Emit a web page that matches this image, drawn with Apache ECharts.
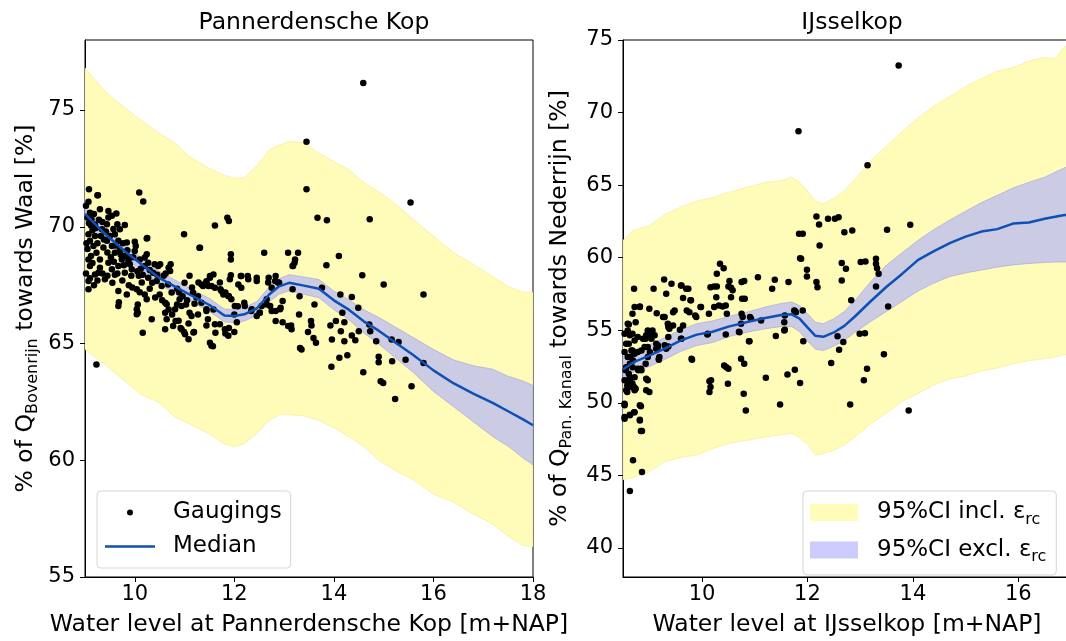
<!DOCTYPE html>
<html><head><meta charset="utf-8">
<script src="https://cdn.jsdelivr.net/npm/echarts@6/dist/echarts.min.js"></script>
<style>html,body{margin:0;padding:0;background:#fff}#c{width:1066px;height:641px}</style>
</head><body><div id="c"></div><script>
// ---------- LEFT PANEL: Pannerdensche Kop ----------
const titleLeft = 'Pannerdensche Kop';
const titleRight = 'IJsselkop';
const xTicksLeft = [10, 12, 14, 16, 18];
const yTicksLeft = [55, 60, 65, 70, 75];
const xTicksRight = [10, 12, 14, 16];
const yTicksRight = [40, 45, 50, 55, 60, 65, 70, 75];

const bandXLeft = [9.0, 9.4, 9.8, 10.1, 10.5, 10.8, 11.1, 11.5, 11.8, 12.0, 12.2, 12.45, 12.7, 12.9, 13.1, 13.4, 13.7, 14.0, 14.3, 14.6, 14.9, 15.2, 15.6, 16.0, 16.4, 16.8, 17.2, 17.5, 17.8, 18.0];
const inclUpperLeft = [76.8, 75.8, 75.1, 74.6, 74.0, 73.6, 73.0, 72.5, 72.2, 72.08, 72.1, 72.6, 73.3, 73.5, 73.65, 73.6, 73.15, 72.8, 72.45, 71.9, 71.5, 71.05, 70.3, 69.6, 68.9, 68.4, 67.85, 67.45, 67.2, 67.2];
const inclLowerLeft = [64.75, 64.1, 63.4, 62.85, 62.45, 61.85, 61.55, 61.12, 60.7, 60.58, 60.7, 61.15, 61.7, 61.95, 61.95, 61.9, 61.7, 61.4, 61.0, 60.6, 60.0, 59.6, 59.15, 58.55, 58.2, 57.7, 57.25, 56.75, 56.35, 56.3];
const medianLeft = [70.55, 69.7, 68.95, 68.45, 67.8, 67.45, 67.1, 66.65, 66.2, 66.18, 66.25, 66.5, 67.1, 67.45, 67.6, 67.48, 67.35, 66.85, 66.45, 65.95, 65.55, 65.1, 64.5, 63.85, 63.3, 62.85, 62.45, 62.1, 61.75, 61.5];
const exclUpperLeft = [70.83, 69.98, 69.23, 68.73, 68.08, 67.73, 67.38, 66.93, 66.48, 66.46, 66.54, 66.8, 67.42, 67.78, 67.95, 67.85, 67.74, 67.25, 66.88, 66.45, 66.12, 65.75, 65.25, 64.75, 64.3, 64.05, 63.9, 63.6, 63.4, 63.2];
const exclLowerLeft = [70.27, 69.42, 68.67, 68.17, 67.52, 67.17, 66.82, 66.37, 65.92, 65.9, 65.96, 66.2, 66.78, 67.12, 67.25, 67.11, 66.96, 66.45, 66.02, 65.45, 64.98, 64.45, 63.75, 62.95, 62.3, 61.65, 61.0, 60.6, 60.1, 59.8];

const gaugingsLeft = [
[14.59,76.16],[13.45,73.64],[13.45,71.61],[15.54,71.04],[14.72,70.32],[13.67,70.39],[13.86,70.28],
[9.08,71.61],[9.26,71.35],[10.09,71.47],[10.17,71.08],[11.61,70.06],[11.86,70.39],[11.89,70.25],[10.99,69.68],[11.3,69.1],[10.25,69.52],[12.6,68.89],[11.93,68.82],[11.93,68.6],[13.28,68.89],[13.21,68.46],[13.17,68.32],[13.85,68.35],[14.1,68.75],[14.57,67.92],[15.0,67.53],[15.8,67.1],[13.76,67.39],[14.13,67.1],[14.36,66.99],[14.49,66.53],[14.17,66.32],[13.61,66.67],[13.3,66.24],[13.17,67.32],[13.31,67.03],[12.69,67.82],[12.83,67.89],[12.9,67.6],[12.13,67.89],[12.27,67.89],[12.45,67.82],[11.93,67.92],[11.51,67.89],[11.58,67.96],[11.44,67.67],[11.37,67.46],[11.48,67.46],[11.72,67.32],[11.82,67.18],[11.89,67.03],[11.17,67.18],[11.27,67.03],[10.89,67.18],[10.96,67.03],[10.72,68.39],[10.68,68.25],[10.47,68.32],[10.2,68.68],[10.27,68.46],[9.68,66.77],[10.06,66.67],[10.06,66.32],[10.61,66.75],[10.68,66.46],[10.75,66.24],[10.85,66.67],[11.03,66.67],[11.1,66.32],[11.27,66.24],[11.44,66.39],[11.58,66.46],[12.0,66.24],[12.2,66.75],[12.07,66.6],[12.34,66.39],[12.51,66.32],[12.65,66.67],[12.75,66.39],[12.83,66.39],[12.97,66.82],[12.93,66.53],
[9.23,64.1],[10.16,65.46],[10.82,65.96],[10.92,65.67],[10.99,65.49],[11.08,65.86],[11.19,65.49],[11.44,65.77],[11.51,65.03],[11.57,64.88],[11.62,65.46],[11.82,65.43],[12.0,65.49],[11.89,65.67],[12.05,65.91],[12.83,65.96],[12.97,65.91],[13.14,65.77],[13.32,64.81],[13.48,65.49],[13.55,65.77],[13.54,65.96],[13.59,65.24],[13.64,65.03],[13.93,65.77],[13.96,65.17],[13.95,64.0],[14.04,65.96],[14.11,64.39],[14.21,65.1],[14.21,65.91],[14.27,64.5],[14.14,65.53],[14.36,65.34],[14.43,65.14],[14.5,65.53],[14.59,63.77],[14.73,65.53],[14.71,65.82],[14.85,65.1],[14.9,64.43],[14.9,64.2],[14.94,63.38],[14.99,63.31],[15.16,65.17],[15.17,64.24],[15.3,65.06],[15.23,62.62],[15.44,64.31],[15.56,63.17],[15.8,64.17],
[9.07,69.68],[9.1,69.4],[9.17,69.18],[9.23,68.89],[9.07,68.6],[9.1,68.32],[9.3,68.6],[9.37,69.11],[9.44,69.4],[9.54,69.18],[9.6,68.89],[9.47,68.46],[9.54,68.18],[9.67,68.32],[9.74,68.6],[9.8,68.03],[9.87,68.53],[9.94,68.18],[9.4,67.75],[9.27,68.03],[9.07,67.68],[9.07,67.32],[9.2,67.96],[9.67,67.25],[9.84,67.1],[10.04,67.32],[10.14,67.61],[10.27,67.82],[10.44,67.68],[10.54,67.46],[10.67,67.53],[10.74,67.18],[10.37,68.03],[10.51,68.39],[10.71,68.11],[10.0,68.96],[10.1,68.6],[10.2,68.32],[10.24,68.82],[9.6,69.68],[9.7,69.89],[9.34,69.89],[9.2,69.6],[9.44,70.11],[9.54,70.47],[9.3,70.75],[9.13,70.32],[9.47,70.68],[9.67,69.4],[9.84,69.33],[9.9,68.68],[9.67,66.61],[10.04,66.47],[10.24,66.9],[10.41,66.97],[10.64,66.68],[10.61,66.32],[10.64,66.04],[10.81,66.47],[10.94,66.61],[10.88,65.97],[10.94,65.61],[11.01,65.4],[11.18,65.47],[11.14,66.18],[11.24,66.97],[11.34,66.75],[11.44,66.47],[11.47,66.04],[11.61,65.83],[11.71,65.83],[11.54,64.9],[11.81,65.61],[11.88,65.33],[11.28,67.61],[11.34,67.53],[11.44,67.61],[11.51,67.82],[11.54,67.46],[11.61,67.39],[11.71,67.61],[11.74,67.25],[11.78,67.1],[11.88,67.04],[11.94,66.9],[11.91,67.75],[12.14,67.89],[12.28,67.75],[12.45,67.68],[12.08,67.53],[12.14,67.39],[12.01,66.61],[12.21,66.61],[12.68,67.61],[12.82,67.68],[12.88,67.61],[12.75,67.39],[12.72,66.61],[12.92,66.47],[13.08,65.75],[13.15,65.61],[12.65,66.9],[12.55,66.61],[12.35,66.47],[12.45,66.18],[12.51,66.32],[13.08,68.89],[13.22,68.6],[13.18,68.32],[13.35,64.74],[10.34,66.04],[10.04,66.25],[10.61,65.61],[10.77,65.75],[11.08,65.18],
[9.25,71.35],[9.07,71.07],[9.1,70.6],[9.47,70.4],[9.63,70.57],[9.65,70.11],[9.8,70.08],[9.2,70.1],[10.24,69.5],[11.31,69.1],[10.0,69.36],[10.02,69.18],
[9.02,70.9],[9.05,70.4],[9.12,70.05],[9.15,69.85],[9.18,70.55],[9.22,69.95],[9.28,70.3],[9.32,69.6],[9.35,70.2],[9.38,69.45],[9.42,69.8],[9.45,68.9],[9.5,69.6],[9.52,68.7],[9.57,69.9],[9.58,68.5],[9.62,69.2],[9.65,68.0],[9.7,69.0],[9.72,68.8],[9.76,69.3],[9.78,68.35],[9.82,68.75],[9.85,69.0],[9.9,68.4],[9.93,67.9],[9.97,68.7],[10.05,68.1],[10.08,67.9],[10.12,68.2],[10.16,67.95],[10.3,68.15],[10.35,67.6],[10.4,68.4],[10.45,67.95],[10.58,67.9],[10.62,68.0],[9.05,69.05],[9.12,68.75],[9.15,68.45],[9.25,69.3],[9.3,68.25],[9.35,68.0],[9.02,68.0],[9.03,69.3],[9.08,70.15],[9.1,67.8],[9.18,67.5],[9.25,67.7],[9.45,67.9],[9.55,67.6],[9.6,67.95],[9.75,67.7],[9.88,67.5],[9.95,67.4],[10.1,67.2],[10.2,67.1],[10.3,67.35],[10.5,67.1],[10.55,66.85],[10.85,67.35],[10.9,66.9],[11.0,67.6],[11.05,66.85],[11.15,67.4],[11.2,66.7],[11.1,67.9]
];

// ---------- RIGHT PANEL: IJsselkop ----------
const bandXRight = [8.5, 8.7, 9.0, 9.3, 9.6, 9.9, 10.2, 10.5, 10.9, 11.2, 11.5, 11.7, 11.85, 12.0, 12.15, 12.3, 12.5, 12.7, 12.9, 13.2, 13.5, 13.8, 14.1, 14.4, 14.7, 15.0, 15.3, 15.6, 15.9, 16.2, 16.5, 16.7, 16.85, 17.0];
const inclUpperRight = [61.2, 61.9, 62.2, 63.0, 63.5, 63.9, 64.15, 64.5, 64.9, 65.2, 65.3, 65.55, 65.2, 64.6, 63.9, 63.7, 64.1, 64.6, 65.4, 66.7, 67.7, 68.7, 69.65, 70.45, 71.1, 71.8, 72.35, 72.85, 73.1, 73.55, 73.8, 73.7, 74.45, 74.8];
const inclLowerRight = [44.7, 44.85, 45.25, 45.95, 46.25, 46.4, 46.85, 47.2, 47.45, 47.65, 47.8, 47.9, 47.6, 47.15, 46.4, 46.5, 46.75, 47.1, 47.65, 48.55, 49.3, 50.1, 50.65, 51.25, 51.65, 51.85, 52.2, 52.4, 52.7, 52.9, 53.05, 53.15, 53.3, 53.4];
const medianRight = [52.3, 52.8, 53.25, 53.75, 54.3, 54.7, 54.9, 55.25, 55.6, 55.85, 56.05, 56.1, 55.8, 55.2, 54.62, 54.55, 54.85, 55.3, 55.95, 57.0, 58.0, 58.9, 59.85, 60.45, 61.0, 61.45, 61.8, 61.97, 62.35, 62.43, 62.68, 62.82, 62.92, 63.0];
const exclUpperRight = [53.2, 53.6, 54.0, 54.5, 55.05, 55.45, 55.65, 55.95, 56.3, 56.6, 56.85, 56.95, 56.7, 56.15, 55.55, 55.45, 55.8, 56.3, 57.05, 58.35, 59.5, 60.35, 61.2, 61.95, 62.6, 63.2, 63.8, 64.3, 64.8, 65.2, 65.55, 65.9, 66.15, 66.4];
const exclLowerRight = [51.6, 52.1, 52.5, 53.0, 53.55, 53.95, 54.15, 54.55, 54.9, 55.1, 55.25, 55.25, 54.9, 54.25, 53.7, 53.6, 53.9, 54.3, 54.85, 55.6, 56.3, 57.0, 57.7, 58.25, 58.7, 58.95, 59.15, 59.35, 59.5, 59.6, 59.67, 59.7, 59.7, 59.7];

const gaugingsRight = [
[13.73,73.24],[11.83,68.72],[13.14,66.37],[13.95,62.27],[13.51,61.92],[12.17,62.84],[12.22,62.29],[12.23,60.84],[12.39,62.68],[12.52,62.68],[12.59,62.79],[12.7,61.76],[12.85,61.88],[11.91,61.65],[11.88,59.93],[11.99,59.17],[11.99,58.71],[12.17,58.32],[12.19,57.97],[12.65,59.63],[12.73,59.24],[12.65,58.43],[12.83,57.06],[13.01,59.7],[13.1,59.74],[13.3,59.93],[13.3,59.58],[13.32,59.28],[13.35,58.9],[13.3,58.02],[13.53,56.64],
[8.71,57.86],[9.08,57.86],[9.28,58.5],[9.42,58.2],[9.61,58.09],[9.74,57.86],[9.32,57.52],[9.64,57.23],[9.78,57.06],[10.16,57.97],[10.34,59.58],[10.41,59.28],[10.28,58.9],[10.23,58.02],[10.28,58.02],[10.27,57.28],[10.52,58.39],[10.55,57.93],[10.5,58.02],[10.58,57.75],[10.55,57.28],[10.75,58.32],[10.8,58.39],[10.76,57.17],[10.81,57.17],[11.06,58.66],[11.33,57.86],[11.38,58.48],[11.64,58.32],
[8.68,56.14],[8.82,56.64],[9.0,56.48],[9.14,56.18],[9.26,55.91],[9.45,56.25],[9.71,56.37],[9.87,56.02],[9.97,56.6],[10.13,56.14],[10.23,56.6],[10.32,56.71],[10.39,56.64],[10.45,56.71],[10.47,56.14],[10.75,56.14],[10.91,55.91],[11.57,56.02],[11.75,56.37],[11.91,56.37],
[8.63,43.92],[8.69,46.04],[8.86,45.23],[8.53,49.02],[8.63,49.18],[8.72,49.36],[8.82,48.79],[8.84,48.06],[8.82,49.83],[8.53,49.94],[8.56,50.86],[8.6,51.32],[8.66,51.09],[8.72,50.86],[8.63,51.77],[8.72,51.77],[8.53,51.55],[8.78,52.35],[8.85,52.24],[8.94,51.66],[9.0,50.74],[8.56,52.46],[8.63,52.69],[8.69,52.92],[8.59,53.15],[8.72,53.38],[8.78,53.5],[8.85,53.61],[8.91,53.84],[8.66,53.61],[8.53,53.5],[8.56,54.07],[8.72,54.3],[8.63,54.65],[8.53,54.76],[8.78,54.53],[8.88,54.42],[8.94,54.65],[8.97,54.99],[9.04,54.42],[9.1,54.65],[9.13,54.07],[9.16,53.84],[9.18,53.04],[8.72,56.6],[8.82,56.6],[8.59,55.45],[8.59,54.99],[9.29,53.96],[9.32,53.73],[8.97,51.55],[8.94,50.86],[9.19,53.15],[9.29,55.91],[9.35,55.45],[9.38,55.11],[9.48,56.37],[9.6,58.09],[9.7,57.86],[9.79,57.06],[9.76,56.25],[9.89,55.91],[9.98,56.6],[9.6,54.42],[9.8,53.04],[10.11,54.76],[10.14,50.74],[10.16,51.09],[10.17,51.55],[10.46,52.46],[10.49,51.32],[10.5,52.35],[10.74,53.04],[10.8,52.69],[10.79,50.63],[10.83,49.48],[10.9,54.25],[11.21,51.73],[11.4,54.6],[11.48,49.89],[11.62,51.96],[11.76,52.28],[11.86,51.36],[11.92,54.25],[11.56,54.99],[11.56,55.56],[10.71,54.87],[10.74,55.45],[10.77,55.91],[10.93,55.8],[11.12,55.68],[11.78,56.25],[12.45,52.74],[11.84,61.65],[11.86,59.97],
[11.57,55.04],[11.76,56.32],[12.57,54.58],[12.68,54.19],[12.6,53.66],[12.99,54.76],[13.09,54.8],[13.13,52.35],[13.07,51.55],[13.45,53.34],[12.81,49.89],[13.92,49.48],
[9.81,52.97],[9.18,52.97],[10.42,52.58],[10.14,51.48],[10.89,54.25],[10.7,54.9],[10.45,54.71],[10.1,54.71],
[8.61,55.4],[8.68,54.76],[8.74,55.56],[8.61,54.07],[8.68,53.61],[8.64,53.15],[8.68,52.46],[8.55,52.24],[8.61,52.0],[8.64,51.66],[8.58,51.2],[8.68,51.32],[8.71,51.09],[8.74,50.97],[8.58,50.74],[8.53,49.83],[8.53,48.9],[8.63,49.14],[8.71,49.36],[8.84,49.76],[8.82,48.84],[8.86,48.06],[8.79,52.24],[8.84,52.35],[8.93,52.69],[8.97,53.15],[9.01,53.5],[8.97,53.84],[8.93,54.42],[9.0,54.76],[9.06,54.99],[9.13,53.73],[9.16,53.96],[9.36,53.89],[9.36,55.22],[9.45,55.33],[9.58,55.04],[9.64,55.33],[9.61,54.42],[9.36,54.53]
];

// ---------- styles ----------
const FONT = 'DejaVu Sans';
const FS_TICK = 21;
const FS_LABEL = 23.5;
const FS_TITLE = 23.5;
const FS_LEG = 23;
const FS_SUB = 16;
const YELLOW = '#fffbb9';
const YELLOW_EDGE = 'rgba(245,235,140,0.6)';
const LAVENDER = '#cbcbe4';
const LAVENDER_EDGE = 'rgba(140,140,230,0.45)';
const LAVENDER_LEG = '#ccccff';
const BLUE = '#0e50b3';

const zip = (xs, ys) => xs.map((x, i) => [x, ys[i]]);

const richLabel = { sub: { fontSize: FS_SUB, fontFamily: FONT, color: '#000', verticalAlign: 'bottom' },
                    n: { fontSize: FS_LABEL, fontFamily: FONT, color: '#000', lineHeight: 31 } };
const richLeg = { sub: { fontSize: FS_SUB, fontFamily: FONT, color: '#000', verticalAlign: 'bottom' },
                  n: { fontSize: FS_LEG, fontFamily: FONT, color: '#000', lineHeight: 30 } };

function xAxisCfg(grid, min, max, ticks, name) {
  return {
    type: 'value', gridIndex: grid, min: min, max: max,
    name: name, nameLocation: 'middle', nameGap: 36, nameMoveOverlap: false,
    nameTextStyle: { fontFamily: FONT, fontSize: FS_LABEL, color: '#000' },
    axisLine: { show: true, onZero: false, lineStyle: { color: '#000', width: 1 } },
    axisTick: { show: true, inside: false, length: 5, customValues: ticks, lineStyle: { color: '#000', width: 1 } },
    axisLabel: { show: true, customValues: ticks, margin: 7, fontFamily: FONT, fontSize: FS_TICK, color: '#000' },
    splitLine: { show: false }
  };
}
function yAxisCfg(grid, min, max, ticks, name, gap) {
  return {
    type: 'value', gridIndex: grid, min: min, max: max,
    name: name, nameLocation: 'middle', nameGap: gap, nameRotate: 90, nameMoveOverlap: false,
    nameTextStyle: { fontFamily: FONT, fontSize: FS_LABEL, color: '#000', rich: richLabel },
    axisLine: { show: true, onZero: false, lineStyle: { color: '#000', width: 1 } },
    axisTick: { show: true, inside: false, length: 5, customValues: ticks, lineStyle: { color: '#000', width: 1 } },
    axisLabel: { show: true, customValues: ticks, margin: 10, fontFamily: FONT, fontSize: FS_TICK, color: '#000' },
    splitLine: { show: false }
  };
}

// filled band between lo and hi, drawn through the axis scales (api.coord)
function bandSeries(idx, name, xs, lo, hi, fill, edge, z) {
  return {
    name: name, type: 'custom', xAxisIndex: idx, yAxisIndex: idx, silent: true, z: z,
    data: xs.map((x, i) => [x, lo[i], hi[i]]),
    encode: { x: 0, y: [1, 2] },
    itemStyle: { color: fill },
    renderItem: function (params, api) {
      if (params.dataIndex !== 0) return null;
      const up = [], dn = [];
      for (let i = 0; i < xs.length; i++) {
        up.push(api.coord([xs[i], hi[i]]));
        dn.push(api.coord([xs[i], lo[i]]));
      }
      const cs = params.coordSys;
      return {
        type: 'polygon',
        shape: { points: up.concat(dn.reverse()) },
        style: { fill: fill, stroke: edge, lineWidth: 1 },
        clipPath: { type: 'rect', shape: { x: cs.x, y: cs.y, width: cs.width, height: cs.height } }
      };
    }
  };
}

function panelSeries(idx, bx, iu, il, eu, el, med, pts) {
  return [
    bandSeries(idx, '95%CI incl.', bx, il, iu, YELLOW, YELLOW_EDGE, 1),
    bandSeries(idx, '95%CI excl.', bx, el, eu, LAVENDER, LAVENDER_EDGE, 2),
    { name: 'Gaugings', type: 'scatter', xAxisIndex: idx, yAxisIndex: idx, data: pts, symbol: 'circle', symbolSize: 6.5,
      itemStyle: { color: '#000', opacity: 1 }, silent: true, z: 3 },
    { name: 'Median', type: 'line', xAxisIndex: idx, yAxisIndex: idx, data: zip(bx, med), symbol: 'none', showSymbol: false,
      itemStyle: { color: BLUE }, lineStyle: { color: BLUE, width: 2.5 }, silent: true, z: 4 }
  ];
}

const legendBox = { backgroundColor: 'rgba(255,255,255,0.8)', borderColor: '#d6d6d6', borderWidth: 1, borderRadius: 4 };

const option = {
  animation: false,
  backgroundColor: '#fff',
  title: [
    { text: titleLeft, left: 309, top: 6, textAlign: 'center', textStyle: { fontFamily: FONT, fontSize: FS_TITLE, fontWeight: 'normal', color: '#000' } },
    { text: titleRight, left: 847, top: 6, textAlign: 'center', textStyle: { fontFamily: FONT, fontSize: FS_TITLE, fontWeight: 'normal', color: '#000' } }
  ],
  grid: [
    { left: 85, top: 40, width: 448, height: 537, show: true, borderColor: '#000', borderWidth: 1, outerBoundsMode: 'none', containLabel: false },
    { left: 623, top: 40, width: 448, height: 537, show: true, borderColor: '#000', borderWidth: 1, outerBoundsMode: 'none', containLabel: false }
  ],
  xAxis: [
    xAxisCfg(0, 9, 18, xTicksLeft, 'Water level at Pannerdensche Kop [m+NAP]'),
    xAxisCfg(1, 8.5, 17, xTicksRight, 'Water level at IJsselkop [m+NAP]')
  ],
  yAxis: [
    yAxisCfg(0, 55, 78, yTicksLeft, '{n|% of Q}{sub|Bovenrijn}{n| towards Waal [%]}', 44),
    yAxisCfg(1, 38, 75, yTicksRight, '{n|% of Q}{sub|Pan. Kanaal}{n| towards Nederrijn [%]}', 48)
  ],
  legend: [
    Object.assign({
      left: 97, top: 491, orient: 'vertical', selectedMode: false,
      padding: [10, 9, 10, 8], itemGap: 11, itemWidth: 50, itemHeight: 6,
      data: [{ name: 'Gaugings', icon: 'circle' }, { name: 'Median', icon: 'path://M0,0H50V2.5H0Z' }],
      textStyle: { fontFamily: FONT, fontSize: FS_LEG, color: '#000', padding: [0, 0, 0, 13] }
    }, legendBox),
    Object.assign({
      left: 803, top: 491, orient: 'vertical', selectedMode: false,
      padding: [10, 10, 10, 7], itemGap: 11, itemWidth: 48, itemHeight: 17,
      data: [{ name: '95%CI incl.', icon: 'rect', itemStyle: { color: YELLOW } },
             { name: '95%CI excl.', icon: 'rect', itemStyle: { color: LAVENDER_LEG } }],
      formatter: (name) => '{n|' + name + ' ε}{sub|rc}',
      textStyle: { fontFamily: FONT, fontSize: FS_LEG, color: '#000', padding: [0, 0, 0, 14], rich: richLeg }
    }, legendBox)
  ],
  series: [].concat(
    panelSeries(0, bandXLeft, inclUpperLeft, inclLowerLeft, exclUpperLeft, exclLowerLeft, medianLeft, gaugingsLeft),
    panelSeries(1, bandXRight, inclUpperRight, inclLowerRight, exclUpperRight, exclLowerRight, medianRight, gaugingsRight)
  )
};

const chart = echarts.init(document.getElementById('c'), null, { renderer: 'canvas' });
chart.setOption(option);
</script></body></html>
